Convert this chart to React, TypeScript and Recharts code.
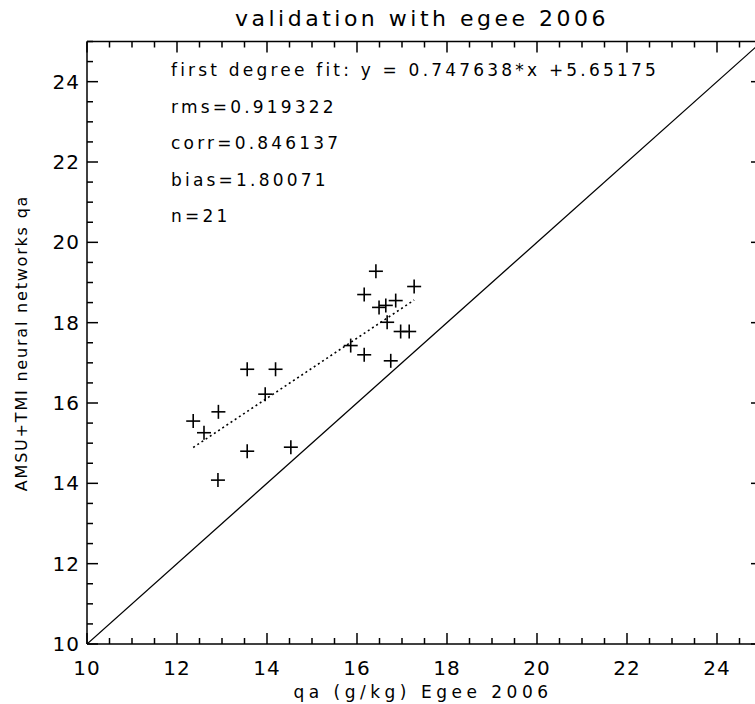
import { Scatter, ScatterChart, XAxis, YAxis } from 'recharts'

// matched points (x: Egee 2006 qa, y: AMSU+TMI network qa), g/kg
const egeeQa = [16.42, 17.27, 16.16, 16.49, 16.64, 16.86, 16.67, 16.97, 17.16, 15.86, 16.16, 16.75, 13.56, 14.19, 13.96, 12.92, 12.36, 12.6, 13.56, 14.53, 12.91]
const nnQa = [19.28, 18.9, 18.7, 18.38, 18.43, 18.55, 18.01, 17.78, 17.78, 17.43, 17.2, 17.05, 16.84, 16.84, 16.22, 15.78, 15.55, 15.26, 14.8, 14.9, 14.08]

// fit coefficients as printed on the plot
const fitSlope = 0.747638
const fitIntercept = 5.65175
const statLines = [
  'first degree fit: y = 0.747638*x +5.65175',
  'rms=0.919322',
  'corr=0.846137',
  'bias=1.80071',
  'n=21',
]

const axisDomain = [10, 25]
const majorTicks = [10, 12, 14, 16, 18, 20, 22, 24]
const allTicks: number[] = []
for (let t = 10; t <= 25; t += 0.5) allTicks.push(t)

const points = egeeQa.map((x, i) => ({ x, y: nnQa[i] }))
const xMin = Math.min(...egeeQa)
const xMax = Math.max(...egeeQa)
const fitLine = [xMin, xMax].map((x) => ({ x, y: fitSlope * x + fitIntercept }))
const diagonal = axisDomain.map((v) => ({ x: v, y: v }))

const FONT = '"DejaVu Sans", sans-serif'
const MAJOR_LEN = 11
const MINOR_LEN = 6
const isMajor = (v: number) => majorTicks.includes(v)

function BottomTick({ x, y, payload }: any) {
  const v = payload.value
  const len = isMajor(v) ? MAJOR_LEN : MINOR_LEN
  return (
    <g>
      <line x1={x} x2={x} y1={y} y2={y - len} stroke="#000" strokeWidth={1.5} />
      {isMajor(v) && (
        <text x={x} y={y + 31} textAnchor="middle" fontSize={20} fontFamily={FONT} letterSpacing={1} fill="#000">
          {v}
        </text>
      )}
    </g>
  )
}

function TopTick({ x, y, payload }: any) {
  const len = isMajor(payload.value) ? MAJOR_LEN : MINOR_LEN
  return <line x1={x} x2={x} y1={y} y2={y + len} stroke="#000" strokeWidth={1.5} />
}

function LeftTick({ x, y, payload }: any) {
  const v = payload.value
  const len = isMajor(v) ? MAJOR_LEN : MINOR_LEN
  return (
    <g>
      <line x1={x} x2={x + len} y1={y} y2={y} stroke="#000" strokeWidth={1.5} />
      {isMajor(v) && (
        <text x={x - 7} y={y} textAnchor="end" dominantBaseline="central" fontSize={20} fontFamily={FONT} letterSpacing={1} fill="#000">
          {v}
        </text>
      )}
    </g>
  )
}

function RightTick({ x, y, payload }: any) {
  const len = isMajor(payload.value) ? MAJOR_LEN : MINOR_LEN
  return <line x1={x} x2={x - len} y1={y} y2={y} stroke="#000" strokeWidth={1.5} />
}

function Cross({ cx, cy }: any) {
  const r = 7
  return (
    <g stroke="#000" strokeWidth={1.6}>
      <line x1={cx - r} x2={cx + r} y1={cy} y2={cy} />
      <line x1={cx} x2={cx} y1={cy - r} y2={cy + r} />
    </g>
  )
}

const axisCommon = {
  type: 'number' as const,
  domain: axisDomain,
  ticks: allTicks,
  interval: 0 as const,
  tickSize: 0,
  tickMargin: 0,
  tickLine: false,
  allowDataOverflow: true,
  axisLine: { stroke: '#000', strokeWidth: 1.5 },
}

export default function App() {
  return (
    <div style={{ position: 'fixed', left: 0, top: 0, width: 755, height: 704, overflow: 'hidden', background: '#fff' }}>
      <ScatterChart width={770} height={704} margin={{ top: 40.5, right: 7, bottom: 0, left: 0 }}>
        <XAxis {...axisCommon} xAxisId="b" dataKey="x" orientation="bottom" height={60} tick={<BottomTick />} />
        <XAxis {...axisCommon} xAxisId="t" dataKey="x" orientation="top" height={1} tick={<TopTick />} />
        <YAxis {...axisCommon} yAxisId="l" dataKey="y" orientation="left" width={87} tick={<LeftTick />} />
        <YAxis {...axisCommon} yAxisId="r" dataKey="y" orientation="right" width={1} tick={<RightTick />} />
        <Scatter
          xAxisId="b"
          yAxisId="l"
          data={diagonal}
          line={{ stroke: '#000', strokeWidth: 1.3 }}
          shape={() => <g />}
          isAnimationActive={false}
        />
        <Scatter
          xAxisId="b"
          yAxisId="l"
          data={fitLine}
          line={{ stroke: '#000', strokeWidth: 1.6, strokeDasharray: '2 3' }}
          shape={() => <g />}
          isAnimationActive={false}
        />
        <Scatter xAxisId="b" yAxisId="l" data={points} shape={<Cross />} isAnimationActive={false} />
      </ScatterChart>
      <svg width={755} height={704} style={{ position: 'absolute', left: 0, top: 0, pointerEvents: 'none' }} fontFamily={FONT} fill="#000">
        <text x={422} y={26} textAnchor="middle" fontSize={22} letterSpacing={3.5}>
          validation with egee 2006
        </text>
        {statLines.map((s, i) => (
          <text key={s} x={171} y={76 + i * 36.6} fontSize={17} letterSpacing={3.2}>
            {s}
          </text>
        ))}
        <text x={423} y={698} textAnchor="middle" fontSize={17} letterSpacing={4.5}>
          qa (g/kg) Egee 2006
        </text>
        <text transform="translate(27,343) rotate(-90)" textAnchor="middle" fontSize={16} letterSpacing={1.8}>
          AMSU+TMI neural networks qa
        </text>
      </svg>
    </div>
  )
}
